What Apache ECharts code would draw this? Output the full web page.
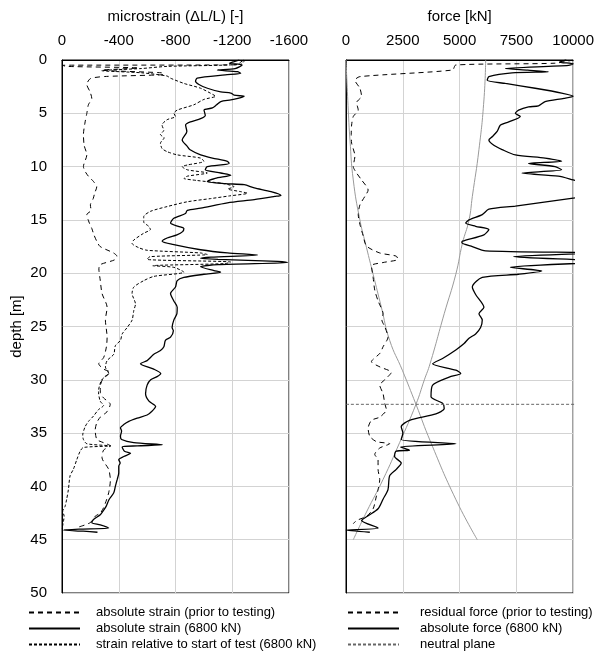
<!DOCTYPE html>
<html>
<head>
<meta charset="utf-8">
<script src="https://cdn.jsdelivr.net/npm/echarts@6/dist/echarts.min.js"></script>
<style>
html, body { margin: 0; padding: 0; background: #fff; }
#main { width: 597px; height: 657px; }
</style>
</head>
<body>
<div id="main"></div>
<script>
// [depth (m), microstrain]
var strainPrior = [
	[0, -1280], [0.3, -1250], [0.45, -1240], [0.5, -5], [0.6, -30], [0.75, -540], [0.95, -280], [1.2, -700],
	[1.35, -720], [1.55, -300], [1.75, -200], [2.3, -175], [3.0, -198], [3.6, -210], [4.2, -186], [5.0, -175],
	[5.8, -163], [7.0, -151], [8.0, -156], [8.9, -175], [10.0, -151], [10.5, -165], [10.9, -186], [11.4, -222],
	[11.9, -245], [12.5, -230], [13.0, -220], [13.6, -200], [14.1, -205], [14.5, -175], [15.2, -190], [15.8, -210],
	[16.4, -225], [17.0, -245], [17.5, -269], [18.1, -363], [18.4, -387], [18.75, -370], [19.2, -269], [19.6, -260],
	[20.7, -270], [21.9, -282], [23.2, -318], [24.4, -306], [26.0, -318], [26.9, -313], [27.9, -294], [28.5, -259],
	[29.0, -294], [29.3, -341], [29.8, -293], [30.6, -270], [31.25, -270], [31.7, -293], [32.3, -340], [33.0, -317],
	[33.5, -270], [34.0, -246], [34.7, -234], [35.6, -246], [35.9, -293], [36.2, -340], [36.6, -293], [37.3, -282],
	[38.4, -329], [39.4, -341], [40.6, -329], [41.6, -305], [42.0, -293], [42.5, -270], [42.8, -234], [43.4, -199],
	[43.8, -120]
];
var strainLoaded = [
	[0, -1250], [0.16, -1213], [0.3, -1180], [0.47, -1270], [0.8, -1220], [0.94, -1095], [1.1, -1237], [1.25, -1260],
	[1.4, -1150], [1.7, -953], [2.0, -941], [2.3, -965], [2.65, -1025], [3.0, -1119], [3.1, -1190], [3.3, -1213],
	[3.4, -1284], [3.6, -1240], [3.75, -1190], [3.9, -1119], [4.2, -1090], [4.5, -1060], [4.7, -1001], [5.2, -1010],
	[5.5, -977], [5.8, -906], [6.1, -871], [6.7, -880], [7.5, -847], [8.1, -883], [8.4, -900], [8.9, -977],
	[9.2, -1060], [9.5, -1166], [9.7, -1178], [10.0, -1024], [10.3, -1010], [10.6, -1119], [10.8, -1190], [11.1, -1080],
	[11.4, -1024], [11.6, -1150], [11.7, -1284], [12.0, -1355], [12.35, -1473], [12.7, -1543], [12.8, -1500], [13.1, -1355],
	[13.4, -1166], [13.9, -977], [14.1, -883], [14.4, -870], [14.85, -788], [15.3, -765], [15.6, -820], [15.8, -859],
	[16.1, -850], [16.4, -810], [16.7, -741], [17.0, -706], [17.3, -780], [17.8, -977], [18.1, -1166], [18.3, -1378],
	[18.5, -1050], [18.6, -977], [18.7, -1100], [18.9, -1520], [19.0, -1590], [19.2, -1100], [19.4, -977], [19.75, -1071],
	[19.9, -1118], [20.1, -1000], [20.4, -859], [20.7, -812], [21.3, -800], [21.9, -765], [22.6, -788], [23.2, -812],
	[23.8, -810], [24.4, -788], [25.1, -776], [25.4, -785], [26.0, -765], [26.3, -729], [26.9, -718], [27.25, -694],
	[27.6, -647], [27.9, -624], [28.2, -600], [28.5, -553], [29.0, -647], [29.4, -696], [29.7, -670], [30.0, -625],
	[30.5, -600], [31.3, -589], [32.0, -613], [32.5, -660], [33.0, -630], [33.3, -600], [33.6, -530], [33.9, -471],
	[34.2, -435], [34.5, -412], [34.8, -420], [35.3, -412], [35.6, -420], [35.9, -506], [36.1, -707], [36.2, -530],
	[36.3, -424], [36.7, -440], [36.9, -483], [37.2, -435], [37.5, -400], [37.8, -410], [38.1, -400], [38.75, -400],
	[39.4, -388], [40.0, -376], [40.6, -365], [41.25, -331], [41.9, -310], [42.3, -290], [42.65, -270], [43.1, -222],
	[43.4, -210], [43.6, -270], [43.9, -329], [44.0, -120], [44.1, -10], [44.2, -150], [44.3, -250]
];
var strainRelative = [
	[0, -1290], [0.4, -1260], [0.6, -740], [0.8, -560], [1.0, -280], [1.2, -560], [1.5, -740], [1.7, -764],
	[2.2, -860], [2.65, -977], [3.3, -1072], [3.4, -1083], [3.7, -1000], [4.2, -930], [4.7, -812], [5.0, -789],
	[5.3, -800], [5.6, -741], [6.1, -705], [6.6, -717], [7.0, -694], [7.3, -720], [7.8, -694], [8.3, -705],
	[8.6, -741], [8.9, -812], [9.2, -977], [9.5, -1000], [9.85, -883], [10.0, -847], [10.3, -883], [10.6, -1024],
	[10.9, -883], [11.1, -859], [11.3, -950], [11.6, -1142], [11.9, -1213], [12.1, -1170], [12.35, -1260], [12.5, -1307],
	[12.75, -1180], [13.0, -1048], [13.3, -883], [13.75, -741], [14.2, -623], [14.7, -576], [15.2, -576], [15.6, -611],
	[15.9, -623], [16.25, -576], [16.9, -505], [17.2, -494], [17.6, -540], [17.85, -600], [18.1, -976], [18.25, -1024],
	[18.45, -620], [18.7, -600], [18.95, -1188], [19.1, -1150], [19.3, -640], [19.45, -788], [19.9, -859], [20.3, -647],
	[20.7, -576], [21.3, -506], [21.9, -494], [22.9, -518], [23.5, -506], [24.4, -494], [25.1, -459], [25.7, -424],
	[26.3, -412], [26.8, -376], [27.6, -365], [28.2, -318], [28.8, -306], [29.4, -329], [30.0, -280], [31.1, -257],
	[32.0, -269], [32.4, -293], [32.8, -257], [33.4, -222], [33.9, -187], [34.4, -163], [35.2, -146], [35.6, -151],
	[36.0, -175], [36.2, -345], [36.35, -150], [36.7, -128], [37.5, -104], [38.4, -80], [39.0, -57], [40.3, -45],
	[41.2, -33], [41.9, -21], [42.3, -5], [42.8, -15], [43.3, -10], [44.0, 0]
];

// [depth (m), force (kN)]
var forceResidual = [
	[0, 10000], [0.3, 9200], [0.47, 4830], [0.94, 4690], [1.56, 611], [1.9, 393], [2.65, 611], [3.4, 684],
	[4.0, 466], [4.7, 539], [5.3, 320], [6.1, 247], [7.0, 230], [7.8, 247], [9.0, 393], [10.0, 320],
	[10.6, 466], [11.25, 684], [12.2, 975], [12.8, 829], [13.6, 611], [14.5, 539], [15.4, 611], [16.5, 757],
	[17.45, 903], [18.1, 1485], [18.4, 2213], [18.7, 2286], [19.0, 1631], [19.3, 1121], [20.4, 1194], [21.6, 1267],
	[22.6, 1412], [23.8, 1631], [24.4, 1580], [25.0, 1704], [26.0, 1849], [26.9, 1631], [27.5, 1500], [28.3, 1121],
	[28.8, 1500], [29.3, 1995], [30.0, 1704], [30.5, 1485], [31.3, 1631], [32.2, 1704], [32.8, 1777], [33.5, 1485],
	[33.8, 1121], [34.55, 975], [35.3, 1048], [35.8, 1340], [36.0, 1922], [36.4, 1485], [37.0, 1267], [37.5, 1412],
	[38.4, 1412], [39.35, 1485], [40.3, 1412], [40.9, 1340], [42.1, 1194], [42.8, 903], [43.2, 466], [43.5, 320]
];
var forceLoaded = [
	[0, 9700], [0.2, 9400], [0.35, 10000], [0.5, 9800], [0.8, 7018], [0.95, 8000], [1.1, 8910], [1.2, 7310],
	[1.56, 6290], [1.9, 6217], [2.2, 7018], [2.65, 8328], [3.1, 9493], [3.4, 10000], [3.6, 9600], [3.9, 8765],
	[4.3, 8474], [4.4, 8037], [4.7, 7600], [5.0, 7455], [5.3, 7673], [5.8, 7164], [6.1, 6800], [6.7, 6654],
	[7.2, 6435], [7.5, 6290], [8.0, 6508], [8.4, 6872], [8.9, 7455], [9.2, 8765], [9.5, 9493], [9.7, 8037],
	[10.0, 9202], [10.3, 9493], [10.6, 7746], [10.9, 9347], [11.25, 10000], [11.8, 11000], [12.4, 11800], [12.95, 10000],
	[13.7, 7455], [14.0, 6290], [14.5, 5999], [15.0, 5416], [15.3, 5270], [15.6, 5707], [15.9, 6290], [16.4, 6072],
	[17.0, 5125], [17.15, 5100], [17.5, 5562], [17.9, 6144], [18.1, 11000], [18.45, 7382], [18.9, 11500], [19.45, 7237],
	[19.8, 8620], [20.1, 7600], [20.4, 5999], [21.3, 5562], [22.0, 5707], [23.2, 6072], [23.8, 5853], [24.4, 5999],
	[25.1, 5926], [25.7, 5707], [26.1, 5416], [26.6, 5198], [27.2, 4834], [28.0, 4252], [28.5, 3815], [29.1, 4834],
	[29.4, 5052], [29.75, 4543], [30.5, 3815], [31.6, 3743], [32.2, 4252], [32.7, 4324], [33.2, 3960], [33.8, 2796],
	[34.4, 2431], [35.0, 2504], [35.6, 2431], [36.0, 4834], [36.3, 2400], [36.6, 2796], [36.7, 2213], [37.2, 2140],
	[37.8, 2431], [38.4, 2213], [39.0, 1922], [40.3, 1849], [41.2, 1631], [42.1, 1412], [42.75, 975], [43.2, 684],
	[43.9, 1412], [44.1, 0], [44.3, 1048]
];
// thin grey reference curves (no legend entry)
var shaftDown = [
	[0, 6150], [3.75, 6072], [8.4, 5853], [12.8, 5562], [15, 5416], [17.2, 5125], [20.1, 4834], [23.8, 4324],
	[28.5, 3700], [30, 3450], [32.3, 3080], [35.9, 2359], [39.35, 1631], [42.4, 903], [45, 320]
];
var shaftUp = [
	[0, 0], [4.7, 100], [7.5, 175], [11.25, 320], [15, 611], [17.6, 903], [20.1, 1194], [23.2, 1558],
	[26.3, 1922], [29.1, 2480], [32.3, 3080], [35.8, 3720], [41.2, 4830], [45, 5780]
];
var neutralDepth = 32.3;
var neutralForceSpan = [0, 10950];

var strainTicks = { min: -1600, max: 0, interval: 400 };
var forceTicks = { min: 0, max: 10000, interval: 2500 };
var depthTicks = { min: 0, max: 50, interval: 5 };

function swap(arr) {
	var out = [];
	for (var i = 0; i < arr.length; i++) {
		out.push([arr[i][1], arr[i][0]]);
	}
	return out;
}

var FONT = '"Liberation Sans", Arial, sans-serif';
var GRIDLINE = '#d3d3d3';

function plain(v) { return String(v); }

function xAx(grid, ticks, name, inverse) {
	return {
		gridIndex: grid, type: 'value', position: 'top',
		min: ticks.min, max: ticks.max, interval: ticks.interval, inverse: inverse,
		name: name, nameLocation: 'middle', nameGap: 36,
		nameTextStyle: { fontFamily: FONT, fontSize: 15, color: '#000' },
		axisLine: { show: true, lineStyle: { color: '#000', width: 1 } },
		axisTick: { show: false },
		axisLabel: { fontFamily: FONT, fontSize: 15, color: '#000', margin: 12, formatter: plain },
		splitLine: { show: true, lineStyle: { color: GRIDLINE, width: 1 } }
	};
}
function yAx(grid, showLabels) {
	return {
		gridIndex: grid, type: 'value', inverse: true,
		min: depthTicks.min, max: depthTicks.max, interval: depthTicks.interval,
		name: showLabels ? 'depth [m]' : '', nameLocation: 'middle', nameGap: 38, nameRotate: 90,
		nameTextStyle: { fontFamily: FONT, fontSize: 15, color: '#000' },
		axisLine: { show: true, lineStyle: { color: '#000', width: 1 } },
		axisTick: { show: false },
		axisLabel: { show: showLabels, fontFamily: FONT, fontSize: 15, color: '#000', margin: 15, formatter: plain },
		splitLine: { show: true, lineStyle: { color: GRIDLINE, width: 1 } }
	};
}
function lineSeries(name, x, y, data, style) {
	return {
		name: name, type: 'line', xAxisIndex: x, yAxisIndex: y,
		data: swap(data), symbol: 'none', smooth: style.smooth || 0.25,
		clip: style.clip === false ? false : true,
		lineStyle: { color: style.color || '#000', width: style.width || 1, type: style.type || 'solid' },
		itemStyle: { color: style.color || '#000' },
		silent: true, z: style.z || 2
	};
}

function legendBox(left, pad, names) {
	return {
		left: left, top: 606, padding: 0, orient: 'vertical', itemWidth: 51, itemHeight: 12, itemGap: 3,
		itemStyle: { color: 'transparent', borderWidth: 0, opacity: 0 },
		textStyle: { fontFamily: FONT, fontSize: 13, color: '#000', padding: [0, 0, 0, pad] },
		data: names
	};
}

var myChart = echarts.init(document.getElementById('main'), null, { renderer: 'canvas' });
var option = {
	animation: false,
	backgroundColor: '#fff',
	textStyle: { fontFamily: FONT },
	grid: [
		{ left: 62, top: 60, width: 227, height: 533, show: true, borderColor: '#000', borderWidth: 1, backgroundColor: 'transparent' },
		{ left: 346, top: 60, width: 229, height: 533, show: true, borderColor: '#000', borderWidth: 1, backgroundColor: 'transparent' }
	],
	xAxis: [
		xAx(0, strainTicks, 'microstrain (\u0394L/L) [-]', true),
		xAx(1, forceTicks, 'force [kN]', false)
	],
	yAxis: [yAx(0, true), yAx(1, false)],
	legend: [
		legendBox(28, 11, ['absolute strain (prior to testing)', 'absolute strain (6800 kN)', 'strain relative to start of test (6800 kN)']),
		legendBox(347, 16, ['residual force (prior to testing)', 'absolute force (6800 kN)', 'neutral plane'])
	],
	series: [
		lineSeries('absolute strain (prior to testing)', 0, 0, strainPrior, { type: [5, 4] }),
		lineSeries('absolute strain (6800 kN)', 0, 0, strainLoaded, { width: 1.3 }),
		lineSeries('strain relative to start of test (6800 kN)', 0, 0, strainRelative, { type: [3, 2] }),
		lineSeries('grey1', 1, 1, shaftDown, { color: '#9a9a9a', width: 1, smooth: 0.5, z: 1 }),
		lineSeries('grey2', 1, 1, shaftUp, { color: '#9a9a9a', width: 1, smooth: 0.5, z: 1 }),
		lineSeries('residual force (prior to testing)', 1, 1, forceResidual, { type: [5, 4] }),
		lineSeries('absolute force (6800 kN)', 1, 1, forceLoaded, { width: 1.3 }),
		lineSeries('neutral plane', 1, 1, [[neutralDepth, neutralForceSpan[0]], [neutralDepth, neutralForceSpan[1]]],
			{ color: '#666', type: [3, 2], clip: false })
	]
};
myChart.setOption(option);
</script>
</body>
</html>
